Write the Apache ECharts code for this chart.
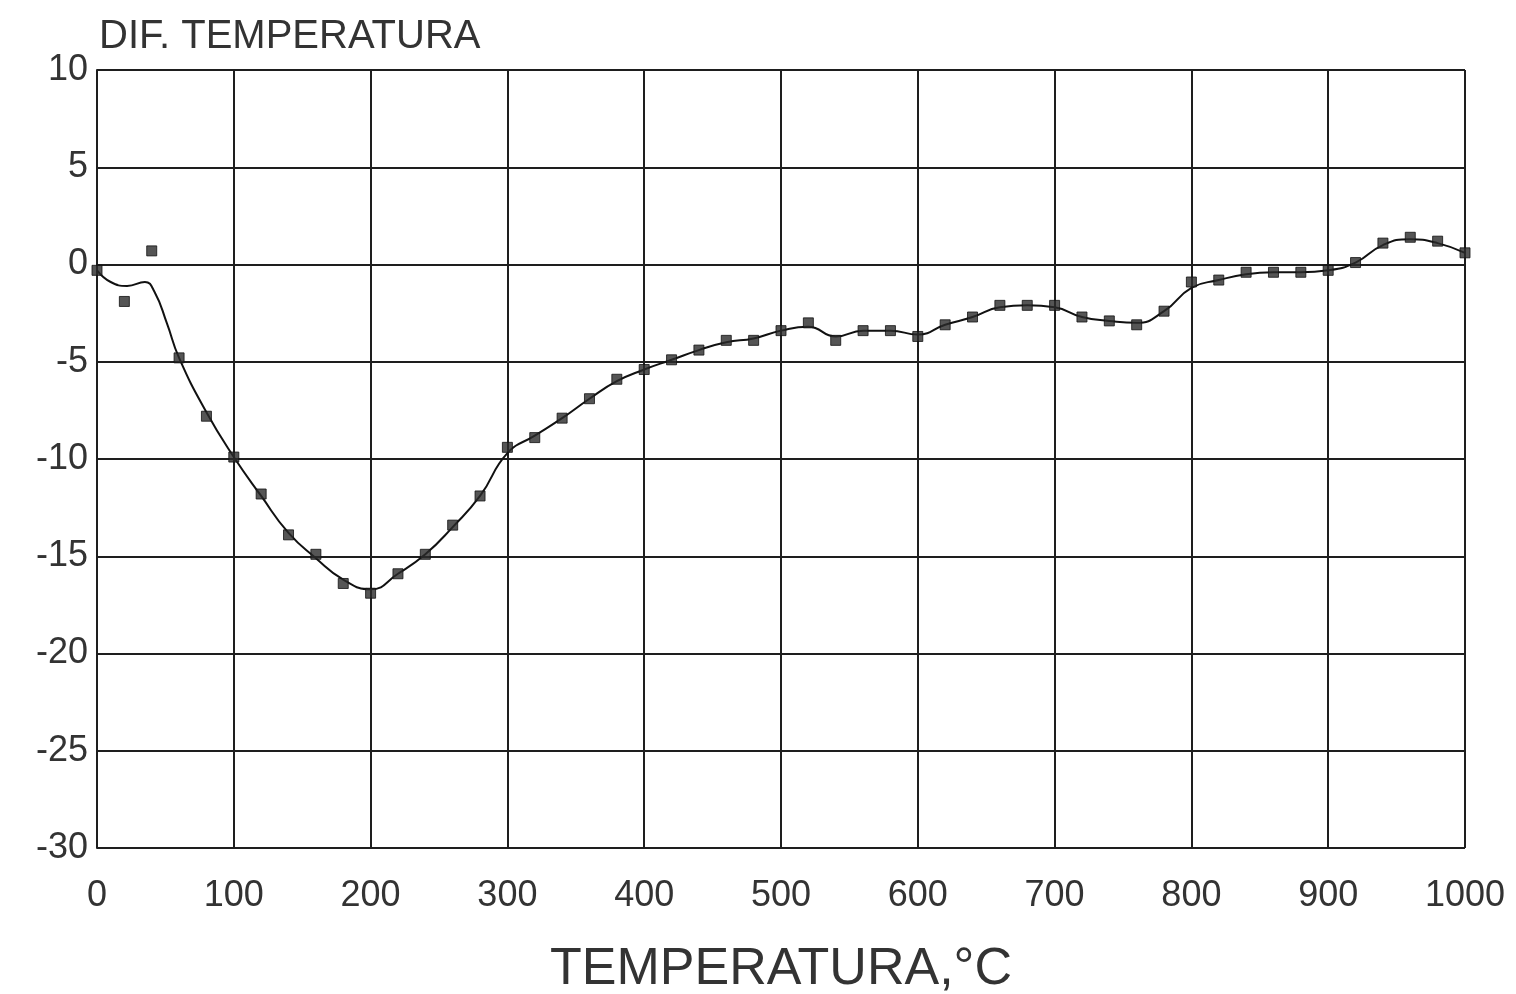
<!DOCTYPE html>
<html>
<head>
<meta charset="utf-8">
<script src="https://cdn.jsdelivr.net/npm/echarts@6/dist/echarts.min.js"></script>
<style>
  html, body { margin: 0; padding: 0; background: #fff; }
  #chart { width: 1516px; height: 994px; }
</style>
</head>
<body>
<div id="chart"></div>
<script>
// measured points (squares), every 20 °C
const tempX = [0, 20, 40, 60, 80, 100, 120, 140, 160, 180, 200, 220, 240, 260, 280, 300,
  320, 340, 360, 380, 400, 420, 440, 460, 480, 500, 520, 540, 560, 580, 600, 620, 640,
  660, 680, 700, 720, 740, 760, 780, 800, 820, 840, 860, 880, 900, 920, 940, 960, 980, 1000]
const difTemp = [-0.3, -1.9, 0.7, -4.8, -7.8, -9.9, -11.8, -13.9, -14.9, -16.4, -16.9, -15.9,
  -14.9, -13.4, -11.9, -9.4, -8.9, -7.9, -6.9, -5.9, -5.4, -4.9, -4.4, -3.9, -3.9, -3.4,
  -3.0, -3.9, -3.4, -3.4, -3.7, -3.1, -2.7, -2.1, -2.1, -2.1, -2.7, -2.9, -3.1, -2.4,
  -0.9, -0.8, -0.4, -0.4, -0.4, -0.3, 0.1, 1.1, 1.4, 1.2, 0.6]

// fitted curve
const fitX = [0, 10, 22, 35, 42, 51, 60, 80, 100, 120, 140, 160, 180, 200, 220, 240, 260, 280, 300,
  320, 340, 360, 380, 400, 420, 440, 460, 480, 500, 520, 540, 560, 580, 600, 620, 640,
  660, 680, 700, 720, 740, 760, 780, 800, 820, 840, 860, 880, 900, 920, 940, 960, 980, 1000]
const fitY = [-0.3, -0.9, -1.1, -0.9, -1.4, -3.0, -4.8, -7.6, -9.9, -11.9, -13.8, -15.1, -16.2,
  -16.7, -15.9, -14.9, -13.5, -11.9, -9.7, -8.8, -7.9, -6.9, -6.0, -5.4, -4.9, -4.4,
  -4.0, -3.8, -3.4, -3.2, -3.7, -3.4, -3.4, -3.6, -3.1, -2.7, -2.2, -2.1, -2.2, -2.7,
  -2.9, -3.0, -2.4, -1.2, -0.8, -0.5, -0.4, -0.4, -0.3, 0.1, 1.0, 1.3, 1.1, 0.6]

const xTicks = [0, 100, 200, 300, 400, 500, 600, 700, 800, 900, 1000]
const yTicks = [-30, -25, -20, -15, -10, -5, 0, 5, 10]

const ink = '#1e1e1e'
const font = 'Liberation Sans'

const chart = echarts.init(document.getElementById('chart'))
chart.setOption({
  backgroundColor: '#fff',
  animation: false,
  title: {
    text: 'DIF. TEMPERATURA',
    left: 94,
    top: 12,
    textStyle: { color: '#333', fontFamily: font, fontWeight: 'normal', fontSize: 40 }
  },
  grid: { left: 97, right: 51, top: 70, bottom: 146, outerBoundsMode: 'none', containLabel: false },
  xAxis: {
    type: 'value',
    min: xTicks[0],
    max: xTicks[xTicks.length - 1],
    interval: 100,
    name: 'TEMPERATURA,°C',
    nameLocation: 'middle',
    nameGap: 96,
    nameTextStyle: { color: '#333', fontFamily: font, fontSize: 52 },
    axisLine: { lineStyle: { color: ink, width: 2 } },
    axisTick: { show: false },
    axisLabel: { color: '#333', fontFamily: font, fontSize: 36, margin: 30, formatter: (v) => String(v) },
    splitLine: { lineStyle: { color: ink, width: 2 } }
  },
  yAxis: {
    type: 'value',
    min: yTicks[0],
    max: yTicks[yTicks.length - 1],
    interval: 5,
    axisLine: { show: true, lineStyle: { color: ink, width: 2 } },
    axisTick: { show: false },
    axisLabel: { color: '#333', fontFamily: font, fontSize: 36, margin: 9 },
    splitLine: { lineStyle: { color: ink, width: 2 } }
  },
  series: [
    {
      type: 'line',
      data: fitX.map((x, i) => [x, fitY[i]]),
      smooth: 0.5,
      showSymbol: false,
      lineStyle: { color: '#111', width: 2 },
      z: 3
    },
    {
      type: 'scatter',
      data: tempX.map((x, i) => [x, difTemp[i]]),
      symbol: 'rect',
      symbolSize: 10,
      itemStyle: { color: '#2a2a2a', borderColor: '#111', borderWidth: 1 },
      z: 4
    }
  ]
})
</script>
</body>
</html>
